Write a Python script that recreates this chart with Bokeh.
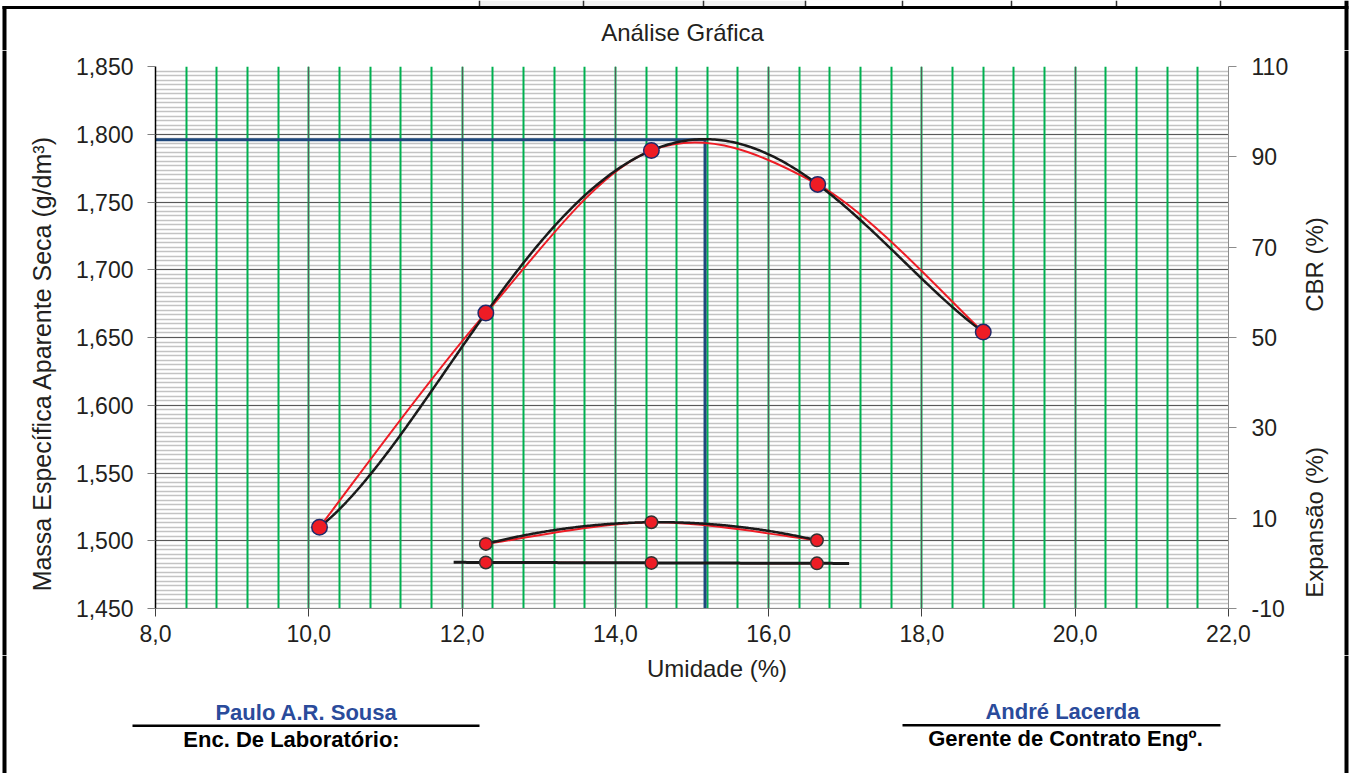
import numpy as np
from bokeh.plotting import figure
from bokeh.layouts import column, row
from bokeh.models import (Range1d, LinearAxis, SingleIntervalTicker, FixedTicker,
                          CustomJSTickFormatter, ColumnDataSource)
from bokeh.core.properties import value
from bokeh.embed import file_html
from bokeh.resources import INLINE

# ---------------- data ----------------
moisture = [10.14, 12.31, 14.47, 16.64, 18.80]          # Umidade (%)
density = [1.510, 1.668, 1.788, 1.763, 1.654]           # g/dm3
cbr_moisture = [12.31, 14.47, 16.63]
cbr = [4.3, 9.1, 5.1]                                   # CBR (%)
exp_moisture = [12.31, 14.47, 16.63]
expansion = [0.2, 0.1, 0.0]                             # Expansão (%)
max_density = 1.796
optimum_moisture = 15.17
trend_forecast = 0.42                                   # linear trendline forecast both ways

x_start, x_end = 8.0, 22.0
y_start, y_end = 1.45, 1.85
r_start, r_end = -10, 110
right_ticks = [-10, 10, 30, 50, 70, 90, 110]

FONT = "Liberation Sans"
TXT = "#231f20"
SIG = "#2a4b9b"

# page geometry (pixels)
W, H = 1354, 773
FL, FR, FT, FB = 155, 1228, 66, 608      # plot frame
TOP_H = 50                                # top band height
LEFT_W = 60                               # left band width
RIGHT_X = 1295                            # right band starts
MAIN_B = 655                              # main figure bottom
MID = 0.3465                              # em offset baseline -> text box middle


def Y(py):
    # page pixel row -> helper data y (y grows upward)
    return H - py


def helper(x0, x1, y0, y1):
    f = figure(width=x1 - x0, height=y1 - y0, x_range=Range1d(x0, x1),
               y_range=Range1d(Y(y1), Y(y0)), frame_align=False,
               output_backend="svg", toolbar_location=None, tools="", title=None,
               x_axis_type=None, y_axis_type=None, min_border=0,
               outline_line_color=None, background_fill_color="white", border_fill_color="white")
    return f


def box(f, x0, x1, y0, y1, color="black"):
    f.quad(left=[x0], right=[x1], top=[Y(y0)], bottom=[Y(y1)], fill_color=color, line_color=None)


def txt(f, text, x, y, size=24, color=TXT, style="normal", angle=0.0, baseline_y=True):
    # y is the text baseline (horizontal texts) or the centre (rotated texts)
    yc = y - MID * size if baseline_y else y
    f.text(x=[x], y=[Y(yc)], text=[text], text_align="center", text_baseline="middle",
           angle=angle, text_font=value(FONT), text_font_size=value(f"{size}px"),
           text_color=color, text_font_style=style)


# ---------------- main plot ----------------
p = figure(width=RIGHT_X - LEFT_W, height=MAIN_B - TOP_H,
           x_range=Range1d(x_start, x_end), y_range=Range1d(y_start, y_end),
           output_backend="svg", toolbar_location=None, title=None, frame_align=False,
           min_border_left=FL - LEFT_W, min_border_right=RIGHT_X - FR,
           min_border_top=FT - TOP_H, min_border_bottom=MAIN_B - FB,
           background_fill_color="white", border_fill_color="white", outline_line_color=None)
p.extra_y_ranges = {"right": Range1d(r_start, r_end)}

p.xaxis.ticker = SingleIntervalTicker(interval=2, num_minor_ticks=5)
p.yaxis.ticker = SingleIntervalTicker(interval=0.05, num_minor_ticks=15)
p.xaxis.formatter = CustomJSTickFormatter(code="return tick.toFixed(1).replace('.', ',')")
p.yaxis.formatter = CustomJSTickFormatter(code="return tick.toFixed(3).replace('.', ',')")

for ax in (p.xaxis, p.yaxis):
    ax.major_label_text_font = FONT
    ax.major_label_text_font_size = "23px"
    ax.major_label_text_color = TXT
    ax.minor_tick_line_color = None
    ax.major_tick_in = 0
    ax.major_tick_out = 8
    ax.major_tick_line_width = 1

p.yaxis.axis_line_color = "black"
p.yaxis.axis_line_width = 1.5
p.yaxis.major_tick_line_color = "#7f7f7f"
p.yaxis.major_label_standoff = 14
p.xaxis.axis_line_color = "#8c8c8c"
p.xaxis.major_tick_line_color = "#404040"
p.xaxis.major_label_standoff = 8

rax = LinearAxis(y_range_name="right", ticker=FixedTicker(ticks=right_ticks),
                 formatter=CustomJSTickFormatter(code="return tick.toFixed(0)"),
                 axis_line_color="#8c8c8c", major_tick_line_color="#8c8c8c",
                 minor_tick_line_color=None, major_tick_in=0, major_tick_out=8,
                 major_label_text_font=FONT, major_label_text_font_size="23px",
                 major_label_text_color=TXT, major_label_standoff=15)
p.add_layout(rax, "right")

p.xgrid.grid_line_color = "#595959"
p.xgrid.grid_line_width = 1
p.xgrid.minor_grid_line_color = "#00b050"
p.xgrid.minor_grid_line_width = 2
p.ygrid.grid_line_color = "#595959"
p.ygrid.grid_line_width = 1
p.ygrid.minor_grid_line_color = "#c3c3c3"
p.ygrid.minor_grid_line_width = 1.6
p.center = [p.ygrid[0], p.xgrid[0]] + [r for r in p.center if r not in (p.ygrid[0], p.xgrid[0])]


def smooth(xs, ys, t=1 / 6):
    pts = np.column_stack([xs, ys]).astype(float)
    n = len(pts)
    seg = {k: [] for k in ("x0", "y0", "x1", "y1", "cx0", "cy0", "cx1", "cy1")}
    for i in range(n - 1):
        p0 = pts[i - 1] if i > 0 else pts[i]
        p1, p2 = pts[i], pts[i + 1]
        p3 = pts[i + 2] if i + 2 < n else pts[i + 1]
        c1 = p1 + (p2 - p0) * t
        c2 = p2 - (p3 - p1) * t
        seg["x0"].append(p1[0]); seg["y0"].append(p1[1])
        seg["x1"].append(p2[0]); seg["y1"].append(p2[1])
        seg["cx0"].append(c1[0]); seg["cy0"].append(c1[1])
        seg["cx1"].append(c2[0]); seg["cy1"].append(c2[1])
    return ColumnDataSource(seg)


def trend(xs, ys, deg, back=0.0, fwd=0.0):
    coef = np.polyfit(xs, ys, deg)
    xx = np.linspace(min(xs) - back, max(xs) + fwd, 300)
    return xx, np.polyval(coef, xx)


RED = "#ee1c25"
BLACK = "#1a1a1a"
BLUE = "#1f497d"
BZ = dict(x0="x0", y0="y0", x1="x1", y1="y1", cx0="cx0", cy0="cy0", cx1="cx1", cy1="cy1")

p.line([x_start, optimum_moisture], [max_density, max_density], line_color=BLUE, line_width=3)
p.line([optimum_moisture, optimum_moisture], [max_density, y_start], line_color=BLUE, line_width=3)

p.bezier(source=smooth(moisture, density), line_color=RED, line_width=2, **BZ)
tx, ty = trend(moisture, density, 4)
p.line(tx, ty, line_color=BLACK, line_width=2.5)

p.bezier(source=smooth(cbr_moisture, cbr), line_color=RED, line_width=2, y_range_name="right", **BZ)
tx, ty = trend(cbr_moisture, cbr, 2)
p.line(tx, ty, line_color=BLACK, line_width=2.5, y_range_name="right")

p.bezier(source=smooth(exp_moisture, expansion), line_color=RED, line_width=2,
         y_range_name="right", **BZ)
tx, ty = trend(exp_moisture, expansion, 1, trend_forecast, trend_forecast)
p.line(tx, ty, line_color=BLACK, line_width=3, y_range_name="right")

p.scatter(moisture, density, marker="circle", size=15.5, fill_color=RED,
          line_color="#1f2a6b", line_width=1.5)
p.scatter(cbr_moisture, cbr, marker="circle", size=12.5, fill_color=RED,
          line_color="#333333", line_width=1.5, y_range_name="right")
p.scatter(exp_moisture, expansion, marker="circle", size=12.5, fill_color=RED,
          line_color="#333333", line_width=1.5, y_range_name="right")

# ---------------- top band ----------------
top = helper(0, W, 0, TOP_H)
box(top, 479, 805, 0, 5.5, "#f0f0f0")
for cx in [479, 583, 703, 805, 902, 1011, 1116, 1220]:
    box(top, cx - 0.75, cx + 0.75, 0, 6, "#333333")
box(top, 2, 1348, 5.5, 8.5)
box(top, 2, 6, 5.5, TOP_H)
box(top, 1344, 1348, 0, TOP_H)
txt(top, "Análise Gráfica", 682, 40.7)

# ---------------- left band ----------------
left = helper(0, LEFT_W, TOP_H, MAIN_B)
box(left, 2, 6, TOP_H, MAIN_B)
txt(left, "Massa Específica Aparente Seca (g/dm³)", 41, 363, size=25, angle=np.pi / 2,
    baseline_y=False)

# ---------------- right band ----------------
right = helper(RIGHT_X, W, TOP_H, MAIN_B)
box(right, 1344, 1348, TOP_H, MAIN_B)
txt(right, "CBR (%)", 1314, 264, angle=np.pi / 2, baseline_y=False)
txt(right, "Expansão (%)", 1314, 522, angle=np.pi / 2, baseline_y=False)

# ---------------- bottom band ----------------
bot = helper(0, W, MAIN_B, H)
box(bot, 2, 6, MAIN_B, H)
box(bot, 1344, 1348, MAIN_B, H)
txt(bot, "Umidade (%)", 716.5, 676.7)
txt(bot, "Paulo A.R. Sousa", 306, 719.5, size=22, color=SIG, style="bold")
box(bot, 132, 479, 724.0, 726.5)
txt(bot, "Enc. De Laboratório:", 291, 746.5, size=22, color="black", style="bold")
txt(bot, "André Lacerda", 1062, 719, size=22, color=SIG, style="bold")
box(bot, 902, 1220, 723.5, 726.0)
txt(bot, "Gerente de Contrato Engº.", 1065, 746, size=22, color="black", style="bold")

layout = column(top, row(left, p, right), bot)
open("out.html", "w").write(file_html(layout, INLINE))
